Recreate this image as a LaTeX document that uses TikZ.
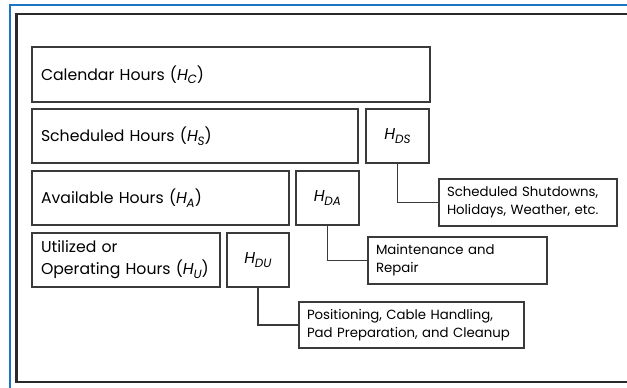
\documentclass[tikz,border=0pt]{standalone}
\usepackage{fontspec}
\setmainfont{Poppins}
\definecolor{boxgray}{HTML}{3A3A3A}
\definecolor{framegray}{HTML}{2A2A2A}
\definecolor{frameblue}{HTML}{1C74C4}
\newcommand{\bigf}{\fontsize{15.7}{22}\selectfont}
\newcommand{\smallf}{\fontsize{13.3}{18}\selectfont}
\newcommand{\Hsub}[1]{{\itshape H\kern-0.3pt\raisebox{-0.4ex}{\fontsize{12}{12}\selectfont #1}}}
\begin{document}
\begin{tikzpicture}[x=1pt,y=-1pt,
  box/.style={draw=boxgray, line width=1.6pt, rectangle, inner ysep=0pt, outer sep=0pt, anchor=north west},
  lbox/.style={box, align=left, inner xsep=9pt, font=\bigf},
  hbox/.style={box, align=center, inner xsep=0pt, font=\bigf},
  dbox/.style={box, align=left, inner xsep=8pt, font=\smallf},
  link/.style={draw=boxgray, line width=1.6pt}]
\useasboundingbox (0,0) rectangle (627,388);
\fill[white] (0,0) rectangle (627,388);
% frames
\coordinate (b1) at (627,5);
\coordinate (b2) at (10,5);
\coordinate (b3) at (10,388);
\draw[frameblue, line width=2pt] (b1) -- (b2) -- (b3);
\coordinate (f1) at (627,14);
\coordinate (f2) at (16.5,14);
\coordinate (f3) at (16.5,382);
\coordinate (f4) at (627,382);
\draw[framegray, line width=2.8pt] (f1) -- (f2) -- (f3) -- (f4);
% left boxes
\node[lbox, text width=380pt, minimum height=55pt] (cal) at (32,47) {Calendar Hours (\Hsub{C})};
\node[lbox, text width=308pt, minimum height=54pt] (sch) at (32,109) {Scheduled Hours (\Hsub{S})};
\node[lbox, text width=239pt, minimum height=54pt] (ava) at (32,171) {Available Hours (\Hsub{A})};
\node[lbox, text width=170pt, minimum height=54pt] (uti) at (32,233) {Utilized or\\Operating Hours (\Hsub{U})};
% H boxes
\node[hbox, minimum width=63pt, minimum height=54pt] (hds) at (366,109) {\Hsub{DS}};
\node[hbox, minimum width=63pt, minimum height=54pt] (hda) at (296,171) {\Hsub{DA}};
\node[hbox, minimum width=62pt, minimum height=54pt] (hdu) at (227,233) {\Hsub{DU}};
% description boxes
\node[dbox, text width=162pt, minimum height=47pt] (dsd) at (439,179) {Scheduled Shutdowns,\\Holidays, Weather, etc.};
\node[dbox, text width=163pt, minimum height=47pt] (dad) at (368,237) {Maintenance and\\Repair};
\node[dbox, text width=209pt, minimum height=46pt] (dud) at (299,302) {Positioning, Cable Handling,\\Pad Preparation, and Cleanup};
% connectors
\draw[link] (hds.south) |- (dsd.west);
\draw[link] (hda.south) |- (dad.west);
\draw[link] (hdu.south) |- (dud.west);
\end{tikzpicture}
\end{document}
